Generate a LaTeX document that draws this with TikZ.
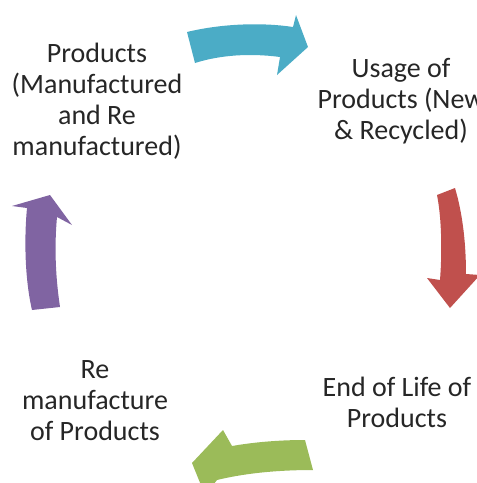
\documentclass[tikz,border=0pt]{standalone}
\usepackage{fontspec}
\setmainfont{Carlito}
\definecolor{cblue}{HTML}{4BACC6}
\definecolor{cred}{HTML}{C0504D}
\definecolor{cgreen}{HTML}{9BBB59}
\definecolor{cpurple}{HTML}{8064A2}
\definecolor{ctext}{HTML}{262626}
\begin{document}
\begin{tikzpicture}[x=1pt,y=-1pt,
  lbl/.style={align=center,inner sep=0pt,text=ctext,font=\fontsize{28}{31}\selectfont,anchor=base}]
\useasboundingbox (0,0) rectangle (477,483);
\clip (0,0) rectangle (477,483);
% arrows
\fill[cblue] (187,32) .. controls (220,24) and (260,22) .. (293,27) -- (296,15) -- (308,47) -- (277,75) -- (280,57) .. controls (250,53) and (220,55) .. (195,63) -- cycle;
\fill[cred] (437,195) .. controls (442,220) and (442,255) .. (440,280) -- (427,278) -- (450,308) -- (480,275) -- (466,274) .. controls (466,245) and (463,215) .. (455,188) -- cycle;
\fill[cgreen] (305,440) .. controls (280,440) and (255,442) .. (232,446) -- (223,430) -- (192,463) -- (205,495) -- (217,480) .. controls (250,472) and (285,470) .. (313,470) -- cycle;
\fill[cpurple] (32,310) .. controls (25,280) and (24,240) .. (27,208) -- (12,206) -- (50,195) -- (72,225) -- (57,217) .. controls (54,250) and (56,280) .. (60,307) -- cycle;
% texts (anchored at the baseline of the last line)
\node[lbl] (prod) at (97,155) {Products\\(Manufactured\\and Re\\manufactured)};
\node[lbl] (usage) at (401,139) {Usage of\\Products (New\\\& Recycled)};
\node[lbl] (eol) at (397,427) {End of Life of\\Products};
\node[lbl] (reman) at (95,440) {Re\\manufacture\\of Products};
\end{tikzpicture}
\end{document}
